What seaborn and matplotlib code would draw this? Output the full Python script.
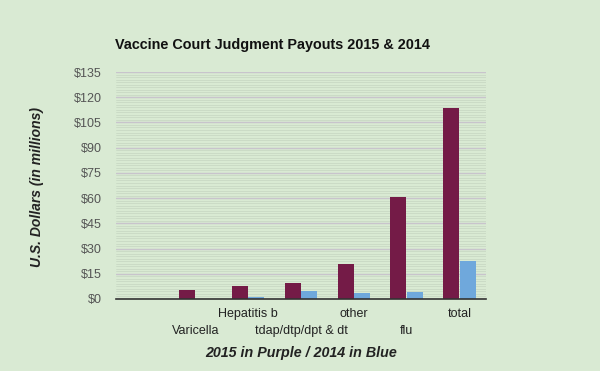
import matplotlib
matplotlib.use("Agg")
import matplotlib.pyplot as plt
import seaborn as sns
import pandas as pd
import numpy as np
from matplotlib.ticker import MultipleLocator, FuncFormatter

categories = ["", "Varicella", "Hepatitis b", "tdap/dtp/dpt & dt", "other", "flu", "total"]
payout_2015 = [np.nan, 5.5, 7.9, 9.7, 20.9, 60.7, 113.5]
payout_2014 = [np.nan, 0.0, 1.4, 4.9, 3.7, 4.3, 22.7]
years = ["2015", "2014"]
colors = ["#741b47", "#6fa8dc"]

df = pd.DataFrame({
    "category": categories * 2,
    "value": payout_2015 + payout_2014,
    "year": [years[0]] * len(categories) + [years[1]] * len(categories),
})

sns.set_theme(style="white")
plt.rcParams["font.family"] = ["Liberation Sans", "DejaVu Sans"]

bg = "#d9ead3"
fig = plt.figure(figsize=(6, 3.71), dpi=100, facecolor=bg)
ax = fig.add_axes([116/600, 1-299/371, 370/600, 227/371])
ax.set_facecolor(bg)

sns.barplot(data=df.dropna(), x="category", y="value", hue="year",
            order=categories, hue_order=years, palette=colors,
            width=0.63, gap=0.04, legend=False, ax=ax, linewidth=0,
            saturation=1)

ax.set_ylim(0, 135)
ax.set_xlim(-0.5, len(categories) - 0.5)
ax.yaxis.set_major_locator(MultipleLocator(15))
ax.yaxis.set_minor_locator(MultipleLocator(1.5))
ax.yaxis.set_major_formatter(FuncFormatter(lambda v, p: f"${v:.0f}"))
ax.grid(axis="y", which="major", color="#c8c4cc", linewidth=1.0)
ax.grid(axis="y", which="minor", color="#c9d9c4", linewidth=0.6)
ax.set_axisbelow(True)

for s in ["left", "right", "top"]:
    ax.spines[s].set_visible(False)
ax.spines["bottom"].set_color("#333333")
ax.spines["bottom"].set_linewidth(1.2)

ax.tick_params(axis="y", which="both", length=0, pad=10.5, labelsize=9, labelcolor="#555555")
ax.tick_params(axis="x", length=0, labelsize=9, labelcolor="#222222")
ax.set_xticks(range(len(categories)))
ax.set_xticklabels(categories)
for i, t in enumerate(ax.xaxis.get_major_ticks()):
    t.set_pad(6.5 if i % 2 == 0 else 18.5)

ax.set_xlabel("")
ax.set_ylabel("")

fig.text(115/600, 1-45/371, "Vaccine Court Judgment Payouts 2015 & 2014",
         fontsize=10.4, fontweight="bold", color="#111111", va="center", ha="left")
fig.text(37/600, 1-187/371, "U.S. Dollars (in millions)", rotation=90,
         fontsize=10, fontweight="bold", fontstyle="italic", color="#222222",
         va="center", ha="center")
fig.text(301/600, 1-353/371, "2015 in Purple / 2014 in Blue",
         fontsize=10.3, fontweight="bold", fontstyle="italic", color="#222222",
         va="center", ha="center")

fig.savefig("out.png", dpi=100, facecolor=bg)
